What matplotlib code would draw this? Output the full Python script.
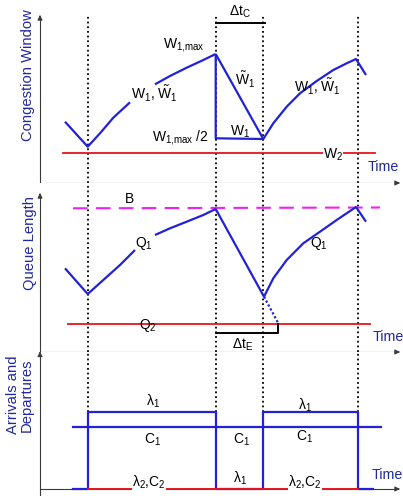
import numpy as np
import matplotlib
matplotlib.use("Agg")
import matplotlib.pyplot as plt

plt.rcParams['font.family'] = ['Liberation Sans', 'DejaVu Sans']
plt.rcParams['mathtext.fontset'] = 'custom'
plt.rcParams['mathtext.rm'] = 'Liberation Sans'
plt.rcParams['mathtext.it'] = 'Liberation Sans:italic'
plt.rcParams['mathtext.bf'] = 'Liberation Sans:bold'

# ---------------- data (time in arbitrary units) ----------------
event_times = [4.8, 17.6, 22.3, 31.8]

# Congestion window panel
w_left_t = [2.5, 4.77, 6.0, 7.33, 9.0, np.nan, 11.5, 13.0, 14.67, 16.33, 17.57]
w_left_v = [6.13, 3.63, 4.97, 6.53, 8.07, np.nan, 9.87, 10.7, 11.53, 12.3, 12.9]
w1_drop_t = [17.57, 17.57, 22.33]
w1_drop_v = [12.9, 4.47, 4.4]
wt_drop_t = [17.57, 22.33]
wt_drop_v = [12.9, 4.4]
w_right_t = [22.33, 23.33, 24.67, 26.0, 27.67, 29.33, 30.67, 31.6, 32.6]
w_right_v = [4.4, 5.97, 7.63, 8.97, 10.2, 11.3, 11.97, 12.4, 10.8]
w2_t = [2.3, 33.5]
w2_v = [3.0, 3.0]

# Queue length panel
q_left_t = [2.5, 4.77, 6.33, 8.0, 9.5, np.nan, 11.5, 13.0, 14.67, 16.33, 17.57]
q_left_v = [8.37, 5.8, 7.2, 8.7, 10.2, np.nan, 11.7, 12.37, 13.03, 13.7, 14.3]
q_drop_t = [17.57, 22.4]
q_drop_v = [14.3, 5.53]
q_ext_t = [22.4, 23.83]
q_ext_v = [5.53, 2.87]
q_right_t = [22.4, 23.33, 24.67, 26.33, 28.0, 29.67, 31.6, 32.6]
q_right_v = [5.53, 7.37, 9.2, 10.87, 12.03, 13.2, 14.5, 13.03]
buffer_t = [3.3, 34.0]
buffer_v = [14.37, 14.45]
q2_t = [2.8, 33.0]
q2_v = [2.8, 2.8]

# Arrivals / departures panel
lam1_t = [3.3, 4.8, 4.8, 17.6, 17.6, 22.3, 22.3, 31.8, 31.8, 33.3]
lam1_v = [0.0, 0.0, 7.73, 7.73, 0.0, 0.0, 7.73, 7.73, 0.0, 0.0]
c1_t = [3.3, 34.1]
c1_v = [6.2, 6.2]
lam2_t = [4.8, 31.8]
lam2_v = [0.0, 0.0]

BLUE = '#2121d8'
RED = '#e8141c'
MAG = '#f020f0'
AX = '#3a3a3a'
LBL = '#22299c'

fig = plt.figure(figsize=(4.03, 4.96), dpi=100)
H = 496.0
xl = (-4.0, 36.3)
ax1 = fig.add_axes([0, (H - 183) / H, 1, 183 / H])
ax2 = fig.add_axes([0, (H - 352) / H, 1, (352 - 183) / H])
ax3 = fig.add_axes([0, 0, 1, (496 - 352) / H])
ax1.set_ylim(0, 18.3)
ax2.set_ylim(0, 16.9)
ax3.set_ylim(-0.7, 13.7)
for ax in (ax1, ax2, ax3):
    ax.set_xlim(*xl)
    ax.axis('off')

fs = 10
dot = dict(color='black', lw=1.3, linestyle=(0, (1, 1.6)))
curve = dict(color=BLUE, lw=1.6, solid_joinstyle='round', solid_capstyle='butt')


def arrows(ax, ytop, ybot):
    ax.plot([0, 0], [ybot, ytop - 0.3], color=AX, lw=0.8)
    ax.annotate('', xy=(0, ytop), xytext=(0, ytop - 0.5),
                arrowprops=dict(arrowstyle='-|>', color=AX, lw=0.8, mutation_scale=7))
    ax.plot([0, 35.6], [0, 0], color=AX, lw=0.8)
    ax.annotate('', xy=(36.0, 0), xytext=(35.5, 0),
                arrowprops=dict(arrowstyle='-|>', color=AX, lw=0.8, mutation_scale=7))


WMAX = r'W$_{1{,}\mathrm{max}}$'
WW = r'W$_1$, $\tilde{\mathrm{W}}_1$'

# ---------------- panel 1 ----------------
arrows(ax1, 16.8, 0)
for t in event_times:
    ax1.plot([t, t], [0, 16.8], **dot)
ax1.plot(w2_t, w2_v, color=RED, lw=1.3)
ax1.plot(w_left_t, w_left_v, **curve)
ax1.plot(w1_drop_t, w1_drop_v, **curve)
ax1.plot(wt_drop_t, wt_drop_v, **curve)
ax1.plot(w_right_t, w_right_v, **curve)
ax1.plot([17.6, 22.5], [16.0, 16.0], color='black', lw=1.4)
ax1.text(20.0, 17.1, r'$\Delta$t$_\mathrm{C}$', fontsize=fs, ha='center', va='center')
ax1.text(16.5, 13.8, WMAX, fontsize=fs, ha='right', va='center')
ax1.text(16.9, 4.6, WMAX + ' /2', fontsize=fs, ha='right', va='center')
ax1.text(20.5, 10.3, r'$\tilde{\mathrm{W}}_1$', fontsize=fs, ha='center', va='center')
ax1.text(20.0, 5.1, r'W$_1$', fontsize=fs, ha='center', va='center')
ax1.text(11.4, 8.9, WW, fontsize=fs, ha='center', va='center')
ax1.text(27.7, 9.6, WW, fontsize=fs, ha='center', va='center')
ax1.text(29.3, 2.8, r'W$_2$', fontsize=fs, ha='center', va='center',
         bbox=dict(facecolor='white', edgecolor='none', pad=0.3))
ax1.text(32.8, 1.6, 'Time', fontsize=fs + 0.3, color=LBL, ha='left', va='center')
ax1.text(-1.2, 10.8, 'Congestion Window', fontsize=10.6, color=LBL, rotation=90,
         ha='center', va='center')

# ---------------- panel 2 ----------------
arrows(ax2, 15.9, 0)
for t in event_times:
    ax2.plot([t, t], [0, 16.9], **dot)
ax2.plot(buffer_t, buffer_v, color=MAG, lw=1.5, linestyle=(0, (7, 4)))
ax2.plot(q2_t, q2_v, color=RED, lw=1.3)
ax2.plot(q_left_t, q_left_v, **curve)
ax2.plot(q_drop_t, q_drop_v, **curve)
ax2.plot(q_ext_t, q_ext_v, color=BLUE, lw=1.6, linestyle=(0, (1, 1)))
ax2.plot(q_right_t, q_right_v, **curve)
ax2.plot([17.6, 23.83, 23.83], [1.87, 1.87, 2.8], color='black', lw=1.4)
ax2.text(9.0, 15.3, 'B', fontsize=fs, ha='center', va='center')
ax2.text(10.4, 10.9, r'Q$_1$', fontsize=fs, ha='center', va='center')
ax2.text(27.9, 10.8, r'Q$_1$', fontsize=fs, ha='center', va='center')
ax2.text(10.8, 2.7, r'Q$_2$', fontsize=fs, ha='center', va='center')
ax2.text(20.3, 0.7, r'$\Delta$t$_\mathrm{E}$', fontsize=fs, ha='center', va='center')
ax2.text(33.3, 1.5, 'Time', fontsize=fs + 0.3, color=LBL, ha='left', va='center')
ax2.text(-1.0, 10.9, 'Queue Length', fontsize=10.6, color=LBL, rotation=90,
         ha='center', va='center')

# ---------------- panel 3 ----------------
arrows(ax3, 13.75, -0.7)
for t in event_times:
    ax3.plot([t, t], [7.73, 13.7], **dot)
ax3.plot(lam1_t, lam1_v, color=BLUE, lw=1.6)
ax3.plot(c1_t, c1_v, color=BLUE, lw=1.6)
ax3.plot(lam2_t, lam2_v, color=RED, lw=1.4)
ax3.text(11.3, 8.8, r'λ$_1$', fontsize=fs, ha='center', va='center')
ax3.text(26.5, 8.4, r'λ$_1$', fontsize=fs, ha='center', va='center')
ax3.text(11.3, 4.9, r'C$_1$', fontsize=fs, ha='center', va='center')
ax3.text(20.2, 4.9, r'C$_1$', fontsize=fs, ha='center', va='center')
ax3.text(26.5, 5.2, r'C$_1$', fontsize=fs, ha='center', va='center')
ax3.text(10.9, 0.63, r'λ$_2$,C$_2$', fontsize=fs, ha='center', va='center',
         bbox=dict(facecolor='white', edgecolor='none', pad=0.2))
ax3.text(20.0, 1.1, r'λ$_1$', fontsize=fs, ha='center', va='center')
ax3.text(26.5, 0.63, r'λ$_2$,C$_2$', fontsize=fs, ha='center', va='center',
         bbox=dict(facecolor='white', edgecolor='none', pad=0.2))
ax3.text(33.2, 1.4, 'Time', fontsize=fs + 0.3, color=LBL, ha='left', va='center')
ax3.text(-2.0, 9.4, 'Arrivals and\nDepartures', fontsize=10.6, color=LBL, rotation=90,
         ha='center', va='center', linespacing=0.95)

fig.savefig('out.png', dpi=100)
